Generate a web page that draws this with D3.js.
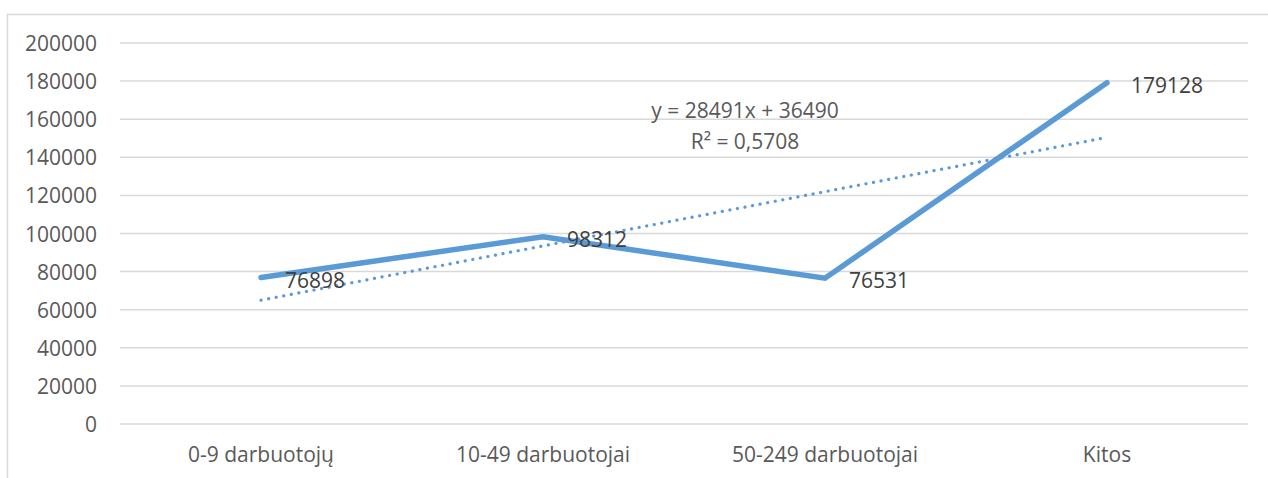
<!DOCTYPE html>
<html><head><meta charset="utf-8">
<script src="https://cdn.jsdelivr.net/npm/d3@7"></script>
<style>body{margin:0;background:#fff;}svg{display:block;}</style>
</head><body>
<script>
const categories = ["0-9 darbuotojų", "10-49 darbuotojai", "50-249 darbuotojai", "Kitos"];
const values = [76898, 98312, 76531, 179128];
const yTicks = [0, 20000, 40000, 60000, 80000, 100000, 120000, 140000, 160000, 180000, 200000];
const trendSlope = 28491;
const trendIntercept = 36490;
const trendLabel = ["y = 28491x + 36490", "R² = 0,5708"];

const W = 1268, H = 478;
const svg = d3.select("body").append("svg").attr("width", W).attr("height", H);
const font = "'Open Sans', 'Noto Sans', sans-serif";
const fs = 21;
// chart border
svg.append("path").attr("d", `M7.5,${H} V14.5 H${W}`).attr("fill", "none").attr("stroke", "#d9d9d9").attr("stroke-width", 1.5);

const x = d3.scaleBand().domain(categories).range([120, 1248]);
const y = d3.scaleLinear().domain([0, 200000]).range([424, 43]);

// gridlines
svg.append("g").selectAll("line").data(yTicks).join("line")
  .attr("x1", 120).attr("x2", 1248)
  .attr("y1", d => y(d)).attr("y2", d => y(d))
  .attr("stroke", "#d9d9d9").attr("stroke-width", 1.5);

// y axis
const ya = svg.append("g").attr("transform", "translate(97,0)")
  .call(d3.axisLeft(y).tickValues(yTicks).tickSize(0).tickPadding(0).tickFormat(d => String(d)));
ya.select(".domain").remove();
ya.selectAll("text").attr("font-family", font).attr("font-size", fs).attr("fill", "#595959").attr("dy", "0.36em");

// x axis
const xa = svg.append("g").attr("transform", "translate(0,424)")
  .call(d3.axisBottom(x).tickSize(0).tickPadding(0));
xa.select(".domain").remove();
xa.selectAll("text").attr("font-family", font).attr("font-size", fs).attr("fill", "#595959").attr("dy", 0).attr("y", 38);

const cx = (d, i) => x(categories[i]) + x.bandwidth() / 2;

// trendline
const trend = categories.map((c, i) => [x(c) + x.bandwidth() / 2, y(trendSlope * (i + 1) + trendIntercept)]);
svg.append("path").attr("d", d3.line()(trend))
  .attr("fill", "none").attr("stroke", "#5b9bd5").attr("stroke-width", 3.2)
  .attr("stroke-linecap", "round").attr("stroke-dasharray", "0.1 7.6");

// series line
svg.append("path").attr("d", d3.line().x((d, i) => cx(d, i)).y(d => y(d))(values))
  .attr("fill", "none").attr("stroke", "#5b9bd5").attr("stroke-width", 5.5)
  .attr("stroke-linejoin", "miter").attr("stroke-linecap", "round");

// data labels
svg.append("g").selectAll("text").data(values).join("text")
  .attr("x", (d, i) => cx(d, i) + 24).attr("y", d => y(d) + 10)
  .attr("font-family", font).attr("font-size", fs).attr("fill", "#404040")
  .text(d => d);

// trendline label
svg.append("g").selectAll("text").data(trendLabel).join("text")
  .attr("x", 745).attr("y", (d, i) => 118 + i * 31)
  .attr("text-anchor", "middle").attr("font-family", font).attr("font-size", fs).attr("fill", "#595959")
  .text(d => d);
</script>
</body></html>
